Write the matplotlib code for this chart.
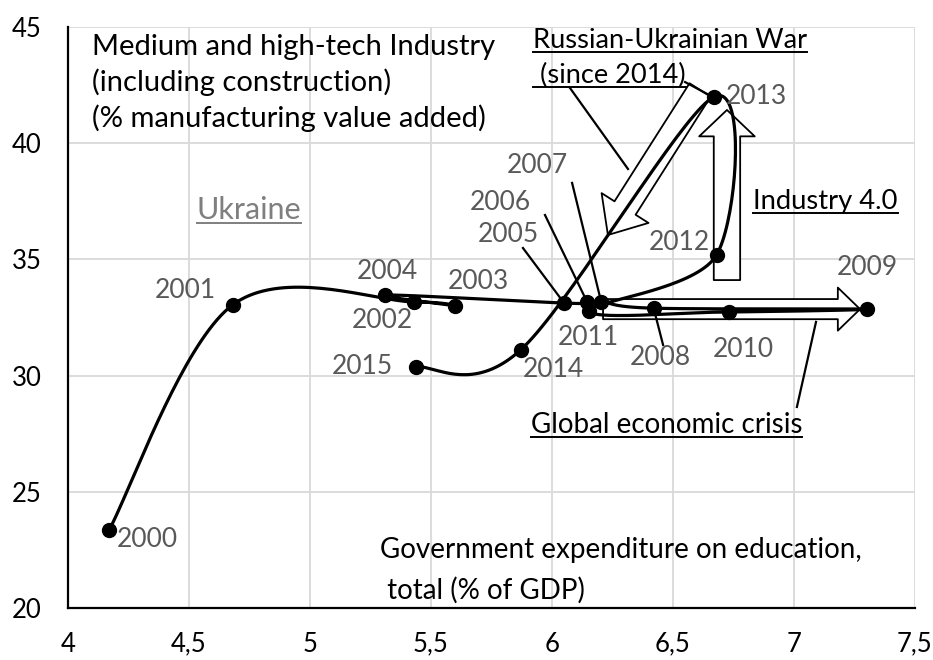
import numpy as np
import matplotlib
matplotlib.use("Agg")
import matplotlib.pyplot as plt
from matplotlib.patches import FancyArrowPatch

plt.rcParams['font.family'] = ['Lato', 'DejaVu Sans']

# data
years = list(range(2000, 2016))
edu_spend = [4.17, 4.68, 5.43, 5.60, 5.31, 6.05, 6.146, 6.203, 6.42, 7.30,
             6.73, 6.154, 6.68, 6.67, 5.87, 5.44]
med_high_tech = [23.36, 33.04, 33.17, 33.00, 33.47, 33.12, 33.15, 33.18, 32.90, 32.86,
                 32.74, 32.78, 35.19, 42.00, 31.10, 30.37]

xticks = [4, 4.5, 5, 5.5, 6, 6.5, 7, 7.5]
xtick_labels = ['4', '4,5', '5', '5,5', '6', '6,5', '7', '7,5']
yticks = [20, 25, 30, 35, 40, 45]

# year label positions (x, y) and optional leader line start
label_pos = {
    2000: (4.20, 22.93), 2001: (4.483, 33.68), 2002: (5.298, 32.35),
    2003: (5.694, 34.03), 2004: (5.318, 34.46), 2005: (5.818, 36.05),
    2006: (5.785, 37.43), 2007: (5.938, 39.06), 2008: (6.446, 30.76),
    2009: (7.302, 34.63), 2010: (6.789, 31.14), 2011: (6.149, 31.62),
    2012: (6.525, 35.71), 2013: (6.843, 41.99), 2014: (6.004, 30.28),
    2015: (5.215, 30.37),
}
leaders = {2005: (5.880, 35.49), 2006: (5.971, 36.91), 2007: (6.083, 38.29),
           2008: (6.459, 31.32)}

GRAY = '#595959'


def excel_smooth(x, y, n=40):
    # Catmull-Rom style bezier, similar to Excel's "smoothed line"
    p = np.column_stack([x, y])
    out = []
    for i in range(len(p) - 1):
        p0 = p[max(i - 1, 0)]
        p1 = p[i]
        p2 = p[i + 1]
        p3 = p[min(i + 2, len(p) - 1)]
        c1 = p1 + (p2 - p0) / 6
        c2 = p2 - (p3 - p1) / 6
        t = np.linspace(0, 1, n)[:, None]
        seg = ((1 - t) ** 3 * p1 + 3 * (1 - t) ** 2 * t * c1
               + 3 * (1 - t) * t ** 2 * c2 + t ** 3 * p2)
        out.append(seg if i == 0 else seg[1:])
    seg = np.vstack(out)
    return seg[:, 0], seg[:, 1]


def block_arrow(ax, p0, p1, tail, head_w, head_l):
    style = f'simple,head_length={head_l},head_width={head_w},tail_width={tail}'
    ax.add_patch(FancyArrowPatch(p0, p1, arrowstyle=style, mutation_scale=1,
                                 shrinkA=0, shrinkB=0, fc='white', ec='black',
                                 lw=1.3, zorder=3))


fig = plt.figure(figsize=(9.33, 6.6), dpi=100)
ax = fig.add_axes([0.0729, 0.0788, 0.9078, 0.8803])
ax.set_xlim(4, 7.5)
ax.set_ylim(20, 45)
ax.set_xticks(xticks)
ax.set_xticklabels(xtick_labels)
ax.set_yticks(yticks)
ax.tick_params(length=0, labelsize=18.5)
ax.tick_params(axis='x', pad=17)
ax.tick_params(axis='y', pad=19)
ax.grid(True, color='#d9d9d9', lw=1.3, zorder=0)
ax.set_axisbelow(True)
for s in ['top', 'right']:
    ax.spines[s].set_visible(False)
for s in ['left', 'bottom']:
    ax.spines[s].set_linewidth(1.6)

# arrows
block_arrow(ax, (6.211, 32.86), (7.273, 32.86), 14.5, 31, 16)
block_arrow(ax, (6.723, 34.11), (6.723, 41.43), 19, 40, 19)
block_arrow(ax, (6.612, 42.29), (6.231, 36.05), 18, 40, 23)

# curve and points
sx, sy = excel_smooth(edu_spend, med_high_tech)
ax.plot(sx, sy, color='black', lw=2.3, zorder=4)
ax.plot(edu_spend, med_high_tech, 'o', color='black', ms=10, zorder=5)

for yr, xv, yv in zip(years, edu_spend, med_high_tech):
    lx, ly = label_pos[yr]
    ha = 'left' if yr == 2000 else 'center'
    ax.text(lx, ly, str(yr), color=GRAY, fontsize=19, ha=ha, va='center', zorder=6)
    if yr in leaders:
        ax.plot([leaders[yr][0], xv], [leaders[yr][1], yv], color='black', lw=1.6, zorder=4)

# leader lines for the annotations
ax.plot([6.074, 6.314], [42.38, 38.89], color='black', lw=1.6, zorder=4)
ax.plot([6.550, 6.641], [42.63, 42.12], color='black', lw=1.6, zorder=4)
ax.plot([7.012, 7.091], [28.65, 32.31], color='black', lw=1.6, zorder=4)

# texts
ylabel_lines = ['Medium and high-tech Industry', '(including construction)',
                '(% manufacturing value added)']
for line, yv in zip(ylabel_lines, [44.14, 42.63, 41.08]):
    ax.text(4.099, yv, line, fontsize=21, ha='left', va='center')
ax.text(5.289, 22.50, 'Government expenditure on education,', fontsize=20,
        ha='left', va='center')
ax.text(5.289, 20.77, ' total (% of GDP)', fontsize=20, ha='left', va='center')

underlined = [
    ax.text(4.748, 37.13, 'Ukraine', fontsize=22, color='#7f7f7f', ha='center', va='center'),
    ax.text(5.921, 44.44, 'Russian-Ukrainian War', fontsize=19.6, ha='left', va='center'),
    ax.text(5.921, 42.93, ' (since 2014)', fontsize=19.6, ha='left', va='center'),
    ax.text(6.831, 37.47, 'Industry 4.0', fontsize=19.7, ha='left', va='center'),
    ax.text(5.913, 27.87, 'Global economic crisis', fontsize=20, ha='left', va='center'),
]

fig.canvas.draw()
inv = ax.transData.inverted()
for t in underlined:
    bb = t.get_window_extent()
    (x0, y0), (x1, _) = inv.transform([[bb.x0, bb.y0 + 1], [bb.x1, bb.y0]])
    ax.plot([x0, x1], [y0, y0], color=t.get_color(), lw=1.4, zorder=6)

fig.savefig('out.png', dpi=100)
